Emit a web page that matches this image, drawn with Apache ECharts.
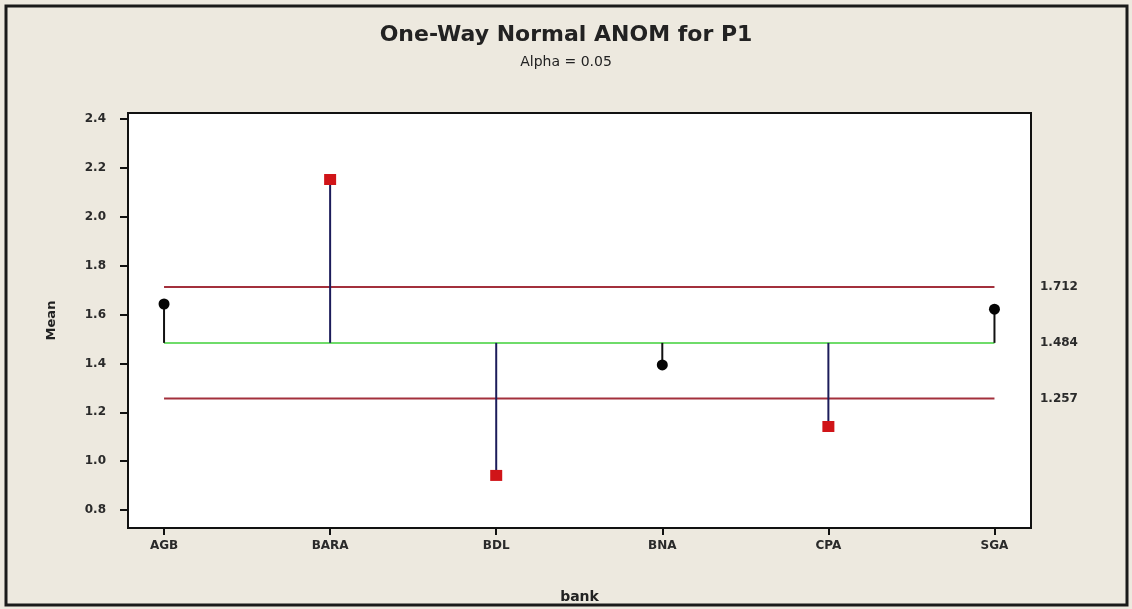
<!DOCTYPE html>
<html>
<head>
<meta charset="utf-8">
<style>
  html, body { margin: 0; padding: 0; background: #ede9df; }
  #chart { width: 1132px; height: 609px; }
</style>
<script src="https://cdn.jsdelivr.net/npm/echarts@6/dist/echarts.min.js"></script>
</head>
<body>
<div id="chart"></div>
<script>
// Bank groups and their mean P1 values
const banks = ['AGB', 'BARA', 'BDL', 'BNA', 'CPA', 'SGA'];
const means = [1.643, 2.152, 0.942, 1.394, 1.142, 1.622];

// Decision limits and centre line
const upperLimit = 1.712;
const centerLine = 1.484;
const lowerLimit = 1.257;

// Y axis tick labels
const yTicks = [0.8, 1.0, 1.2, 1.4, 1.6, 1.8, 2.0, 2.2, 2.4];

const labelFont = { fontFamily: 'DejaVu Sans', fontSize: 12, color: '#2a2a2a', fontWeight: 'bold' };

const limitLine = (value, color) => ({
  type: 'line',
  data: [[0, value], [banks.length - 1, value]],
  symbol: 'none',
  lineStyle: { color: color, width: 2 },
  silent: true,
  z: 2
});

const isOut = v => v > upperLimit || v < lowerLimit;

const chart = echarts.init(document.getElementById('chart'));
chart.setOption({
  backgroundColor: '#ede9df',
  animation: false,
  title: [
    {
      text: 'One-Way Normal ANOM for P1',
      left: 'center',
      top: 19,
      textStyle: { fontFamily: 'DejaVu Sans', fontSize: 22, fontWeight: 'bold', color: '#222' }
    },
    {
      text: 'Alpha = 0.05',
      left: 'center',
      top: 50,
      textStyle: { fontFamily: 'DejaVu Sans', fontSize: 14, fontWeight: 'normal', color: '#222' }
    }
  ],
  graphic: [{
    type: 'rect',
    shape: { x: 6, y: 6, width: 1121, height: 599 },
    style: { fill: 'none', stroke: '#1a1a1a', lineWidth: 3 },
    silent: true,
    z: 100
  }],
  grid: {
    left: 128, right: 101, top: 113, bottom: 79,
    show: true, backgroundColor: '#ffffff', borderColor: '#111', borderWidth: 2
  },
  xAxis: {
    type: 'value',
    min: -0.217, max: 5.22,
    name: 'bank',
    nameLocation: 'middle',
    nameGap: 62,
    nameTextStyle: { fontFamily: 'DejaVu Sans', fontSize: 14, fontWeight: 'bold', color: '#222' },
    axisLine: { show: true, onZero: false, lineStyle: { color: '#111', width: 2 } },
    axisTick: { show: true, length: 7, lineStyle: { color: '#111', width: 2 }, customValues: banks.map((b, i) => i) },
    axisLabel: { ...labelFont, margin: 12, customValues: banks.map((b, i) => i), formatter: v => banks[Math.round(v)] },
    splitLine: { show: false }
  },
  yAxis: [
    {
      type: 'value',
      min: 0.727, max: 2.424,
      name: 'Mean',
      nameLocation: 'middle',
      nameGap: 70,
      nameTextStyle: { fontFamily: 'DejaVu Sans', fontSize: 13, fontWeight: 'bold', color: '#222' },
      axisLine: { show: true, onZero: false, lineStyle: { color: '#111', width: 2 } },
      axisTick: { show: true, length: 8, lineStyle: { color: '#111', width: 2 }, customValues: yTicks },
      axisLabel: { ...labelFont, margin: 22, customValues: yTicks, formatter: v => v.toFixed(1) },
      splitLine: { show: false }
    },
    {
      type: 'value',
      min: 0.727, max: 2.424,
      position: 'right',
      axisLine: { show: false, onZero: false },
      axisTick: { show: false },
      axisLabel: {
        ...labelFont, margin: 9,
        customValues: [lowerLimit, centerLine, upperLimit],
        formatter: v => v.toFixed(3)
      },
      splitLine: { show: false }
    }
  ],
  series: [
    limitLine(upperLimit, '#a3303c'),
    limitLine(lowerLimit, '#a3303c'),
    limitLine(centerLine, '#6fdc6a'),
    {
      // stems from the centre line to each mean
      type: 'custom',
      data: means.map((m, i) => [i, m]),
      renderItem: (params, api) => {
        const from = api.coord([api.value(0), centerLine]);
        const to = api.coord([api.value(0), api.value(1)]);
        return {
          type: 'line',
          shape: { x1: from[0], y1: from[1], x2: to[0], y2: to[1] },
          style: { stroke: isOut(api.value(1)) ? '#1c1c5a' : '#111', lineWidth: 2 }
        };
      },
      silent: true,
      z: 3
    },
    {
      type: 'scatter',
      data: means.map((m, i) => ({
        value: [i, m],
        symbol: isOut(m) ? 'rect' : 'circle',
        symbolSize: isOut(m) ? [12, 11] : 11,
        itemStyle: { color: isOut(m) ? '#d01418' : '#050505', opacity: 1 }
      })),
      silent: true,
      z: 4
    }
  ]
});
</script>
</body>
</html>
